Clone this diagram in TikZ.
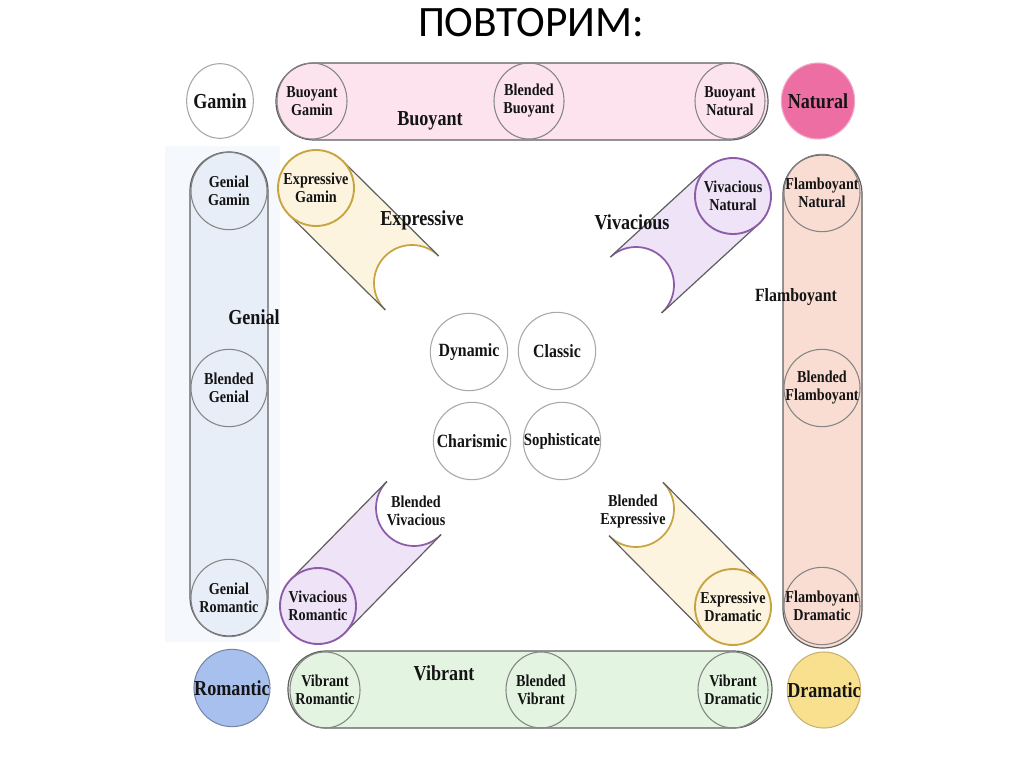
\documentclass[tikz,border=0pt]{standalone}
\usepackage{fontspec}
\usetikzlibrary{shapes.geometric,calc}
\setmainfont{Liberation Serif}
\newfontfamily\tb{Liberation Serif}[FakeStretch=0.85]
\newfontfamily\ttl{Carlito}
\definecolor{pinkcap}{HTML}{FCE3EE}
\definecolor{bluecap}{HTML}{E8EEF8}
\definecolor{peachcap}{HTML}{F9DDD3}
\definecolor{greencap}{HTML}{E3F4E1}
\definecolor{yelcap}{HTML}{FDF4DF}
\definecolor{lavcap}{HTML}{EEE3F7}
\definecolor{gold}{HTML}{C7A43E}
\definecolor{purp}{HTML}{8D5CA8}
\definecolor{natpink}{HTML}{EC6EA3}
\definecolor{rompale}{HTML}{A8C0EE}
\definecolor{dramy}{HTML}{F9E08E}
\definecolor{capline}{HTML}{5E5E5E}
\definecolor{ringgray}{HTML}{858585}
\definecolor{cenring}{HTML}{A8A8A8}
\definecolor{bgblue}{HTML}{F5F8FD}
\definecolor{ink}{HTML}{141414}
\tikzset{
  capsule/.style={draw=capline, line width=0.9pt},
  ov/.style={ellipse, inner sep=0pt, draw=ringgray, line width=0.8pt, minimum width=52.5pt, minimum height=57pt},
  ovc/.style={ellipse, inner sep=0pt, draw=cenring, line width=0.8pt, minimum width=58pt, minimum height=58pt, fill=white},
  ring/.style={circle, inner sep=0pt, line width=1.4pt, minimum size=57pt},
  bigtxt/.style={text=ink, inner sep=0pt, align=center, font=\tb\bfseries\fontsize{16}{18}\selectfont},
  midtxt/.style={text=ink, inner sep=0pt, align=center, font=\tb\bfseries\fontsize{14}{16}\selectfont},
  smalltxt/.style={text=ink, inner sep=0pt, align=center, font=\tb\bfseries\fontsize{12.5}{13.5}\selectfont},
}
\newcommand\diagband[4]{%
  \coordinate (dC) at (#1);
  \coordinate (dM) at (#2);
  \coordinate (dA) at ($(dC)!28.5pt!90:(dM)$);
  \coordinate (dB) at ($(dC)!28.5pt!-90:(dM)$);
  \coordinate (dA2) at ($(dM)+(dA)-(dC)$);
  \coordinate (dB2) at ($(dM)+(dB)-(dC)$);
  \fill[#3] (dA)--(dA2)--(dB2)--(dB)--cycle;
  \fill[#3] (dC) circle (38);
  \fill[white] (dM) circle (38);
  \begin{scope}
    \clip (dA)--(dA2)--(dB2)--(dB)--cycle;
    \draw[#4, line width=1.3pt] (dM) circle (38);
  \end{scope}
  \draw[capsule] (dA)--(dA2) (dB)--(dB2);
}
\begin{document}
\begin{tikzpicture}[x=0.75pt,y=-0.75pt]
\useasboundingbox (0,0) rectangle (1024,767);
\fill[white] (0,0) rectangle (1024,767);

% title
\node[text=black, inner sep=0pt, font=\ttl\fontsize{32.5}{34}\selectfont] (title) at (531,23) {ПОВТОРИМ:};

% faint background behind Genial column
\fill[bgblue] (165,146) rectangle (280,642);

% capsules
\draw[capsule, fill=pinkcap, rounded corners=28.5pt] (276,63) rectangle (768,140);
\draw[capsule, fill=bluecap, rounded corners=29pt] (190,152) rectangle (268,636);
\draw[capsule, fill=peachcap, rounded corners=29pt] (783,155) rectangle (862,648);
\draw[capsule, fill=greencap, rounded corners=28.5pt] (288,651) rectangle (772,728);

% diagonal bands
\diagband{316,188}{412,283}{yelcap}{gold}
\diagband{733,196}{636,285}{lavcap}{purp}
\diagband{318,606}{414,508}{lavcap}{purp}
\diagband{733,607}{636,509}{yelcap}{gold}

% corner circles
\node[ov, draw=cenring, fill=white, minimum width=50pt, minimum height=56pt] (gamin) at (220,101) {};
\node[ov, draw=natpink!60, fill=natpink, minimum width=55pt, minimum height=57pt] (natural) at (818,101) {};
\node[ov, draw=rompale!70!black, fill=rompale, minimum width=57pt, minimum height=58pt] (romantic) at (232,688) {};
\node[ov, draw=dramy!80!black, fill=dramy, minimum width=55pt, minimum height=57pt] (dramatic) at (824,690) {};
\node[bigtxt] (gamin-t) at (gamin) {Gamin};
\node[bigtxt] (natural-t) at (natural) {Natural};
\node[bigtxt] (romantic-t) at (romantic) {Romantic};
\node[bigtxt] (dramatic-t) at (dramatic) {Dramatic};

% Buoyant row
\node[ov] (bg) at (312,101) {};
\node[ov] (bb) at (529,101) {};
\node[ov] (bn) at (730,101) {};
\node[smalltxt] (bg-t) at (bg) {Buoyant\\Gamin};
\node[smalltxt] (bb-t) at (bb) {Blended\\Buoyant};
\node[smalltxt] (bn-t) at (bn) {Buoyant\\Natural};
\node[bigtxt] (buoyant) at (430,121) {Buoyant};

% Genial column
\node[ov, minimum width=57pt, minimum height=58pt] (gg) at (229,191) {};
\node[ov, minimum width=57pt, minimum height=58pt] (blg) at (229,388) {};
\node[ov, minimum width=57pt, minimum height=58pt] (gr) at (229,598) {};
\node[smalltxt] (gg-t) at (gg) {Genial\\Gamin};
\node[smalltxt] (blg-t) at (blg) {Blended\\Genial};
\node[smalltxt] (gr-t) at (gr) {Genial\\Romantic};
\node[bigtxt] (genial) at (254,317) {Genial};

% Flamboyant column
\node[ov, minimum width=57pt, minimum height=58pt] (fn) at (822,193) {};
\node[ov, minimum width=57pt, minimum height=58pt] (bf) at (822,388) {};
\node[ov, minimum width=57pt, minimum height=58pt] (fd) at (822,606) {};
\node[smalltxt] (fn-t) at (fn) {Flamboyant\\Natural};
\node[smalltxt] (bf-t) at (bf) {Blended\\Flamboyant};
\node[smalltxt] (fd-t) at (fd) {Flamboyant\\Dramatic};
\node[midtxt] (flamboyant) at (796,297) {Flamboyant};

% Vibrant row
\node[ov] (vr) at (325,690) {};
\node[ov] (bv) at (541,690) {};
\node[ov] (vd) at (733,690) {};
\node[smalltxt] (vr-t) at (vr) {Vibrant\\Romantic};
\node[smalltxt] (bv-t) at (bv) {Blended\\Vibrant};
\node[smalltxt] (vd-t) at (vd) {Vibrant\\Dramatic};
\node[bigtxt] (vibrant) at (444,673) {Vibrant};

% diagonal end circles
\node[ring, draw=gold] (eg) at (316,188) {};
\node[ring, draw=purp] (vn) at (733,196) {};
\node[ring, draw=purp] (vrom) at (318,606) {};
\node[ring, draw=gold] (ed) at (733,607) {};
\node[smalltxt] (eg-t) at (eg) {Expressive\\Gamin};
\node[smalltxt] (vn-t) at (vn) {Vivacious\\Natural};
\node[smalltxt] (vrom-t) at (vrom) {Vivacious\\Romantic};
\node[smalltxt] (ed-t) at (ed) {Expressive\\Dramatic};
\node[smalltxt] (bvv) at (416,511) {Blended\\Vivacious};
\node[smalltxt] (bex) at (633,511) {Blended\\Expressive};
\node[bigtxt] (expressive) at (422,220) {Expressive};
\node[bigtxt] (vivacious) at (632,222) {Vivacious};

% centre circles
\node[ovc] (dynamic) at (469,352) {};
\node[ovc] (classic) at (557,351) {};
\node[ovc] (charismic) at (472,441) {};
\node[ovc] (sophisticate) at (562,441) {};
\node[midtxt] (dynamic-t) at (dynamic) {Dynamic};
\node[midtxt] (classic-t) at (classic) {Classic};
\node[midtxt] (charismic-t) at (charismic) {Charismic};
\node[midtxt, font=\tb\bfseries\fontsize{13}{15}\selectfont] (sophisticate-t) at (sophisticate) {Sophisticate};
\end{tikzpicture}
\end{document}
